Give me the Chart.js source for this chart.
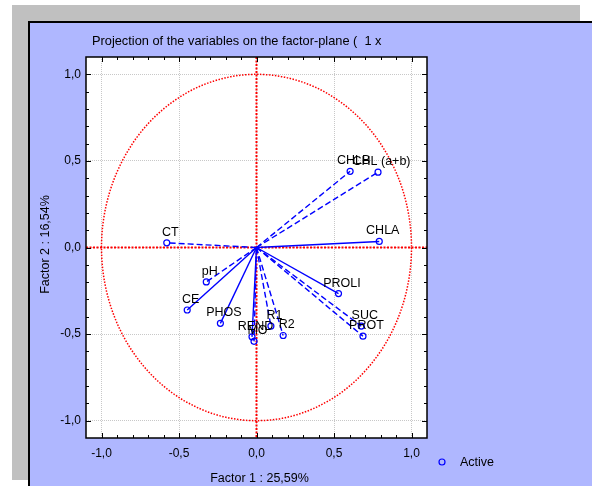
<!DOCTYPE html>
<html>
<head>
<meta charset="utf-8">
<script src="https://cdn.jsdelivr.net/npm/chart.js@4/dist/chart.umd.min.js"></script>
<style>
  html, body { margin: 0; padding: 0; background: #fff; }
  canvas { display: block; }
</style>
</head>
<body>
<canvas id="pcaChart" width="597" height="486"></canvas>
<script>
// Variables projected on factor plane 1 x 2
const variables = ['CHLA', 'CHL (a+b)', 'CHLB', 'CT', 'pH', 'CE', 'PHOS', 'REND', 'MO', 'R1', 'R2', 'PROLI', 'SUC', 'PROT'];
const factor1 = [0.792, 0.784, 0.604, -0.579, -0.324, -0.447, -0.233, -0.029, -0.016, 0.093, 0.172, 0.529, 0.676, 0.687];
const factor2 = [0.035, 0.435, 0.440, 0.027, -0.199, -0.361, -0.438, -0.516, -0.542, -0.454, -0.508, -0.266, -0.454, -0.512];
const lineDashed = [false, true, true, true, true, false, false, false, true, true, true, false, true, true];
const tickValues = [-1.0, -0.5, 0.0, 0.5, 1.0];

const FONT = '"Liberation Sans", Arial, sans-serif';
const BLUE = '#0000ff';
const RED = '#ff0000';

const fmt = v => v.toFixed(1).replace('.', ',');

// fond, cercle de corrélation, étiquettes, cadre
const panelPlugin = {
    id: 'panel',
    beforeDraw(chart) {
        const ctx = chart.ctx, a = chart.chartArea;
        ctx.save();
        ctx.fillStyle = '#fff';
        ctx.fillRect(0, 0, chart.width, chart.height);
        ctx.fillStyle = '#c0c0c0';
        ctx.fillRect(12, 5, 568, 475);
        ctx.fillStyle = '#afb7ff';
        ctx.fillRect(28, 21, 564, 465);
        ctx.strokeStyle = '#000';
        ctx.lineWidth = 2;
        ctx.beginPath();
        ctx.moveTo(29, 486); ctx.lineTo(29, 22); ctx.lineTo(592, 22);
        ctx.stroke();
        ctx.fillStyle = '#fff';
        ctx.fillRect(a.left, a.top, a.right - a.left, a.bottom - a.top);
        ctx.restore();
    },
    beforeDatasetsDraw(chart) {
        const ctx = chart.ctx, a = chart.chartArea;
        const sx = chart.scales.x, sy = chart.scales.y;
        const cx = sx.getPixelForValue(0), cy = sy.getPixelForValue(0);
        const rx = sx.getPixelForValue(1) - cx, ry = cy - sy.getPixelForValue(1);
        ctx.save();
        ctx.beginPath(); ctx.rect(a.left, a.top, a.right - a.left, a.bottom - a.top); ctx.clip();
        ctx.strokeStyle = RED;
        ctx.lineWidth = 1.5;
        ctx.setLineDash([1.5, 1.5]);
        ctx.beginPath();
        ctx.ellipse(cx, cy, rx, ry, 0, 0, Math.PI * 2);
        ctx.stroke();
        ctx.lineWidth = 2;
        ctx.setLineDash([2, 1.5]);
        ctx.beginPath();
        ctx.moveTo(cx, a.top); ctx.lineTo(cx, a.bottom);
        ctx.moveTo(a.left, cy); ctx.lineTo(a.right, cy);
        ctx.stroke();
        ctx.restore();
    },
    afterDatasetsDraw(chart) {
        const ctx = chart.ctx;
        ctx.save();
        ctx.fillStyle = '#000';
        ctx.font = '12.5px ' + FONT;
        ctx.textAlign = 'center';
        ctx.textBaseline = 'middle';
        chart.data.datasets.forEach((ds, i) => {
            const pt = chart.getDatasetMeta(i).data[1];
            ctx.fillText(ds.label, pt.x + 3.5, pt.y - 10.5);
        });
        ctx.restore();
    },
    afterDraw(chart) {
        const ctx = chart.ctx, a = chart.chartArea;
        const sx = chart.scales.x, sy = chart.scales.y;
        ctx.save();
        // cadre
        ctx.strokeStyle = '#000';
        ctx.lineWidth = 1.5;
        ctx.strokeRect(a.left, a.top, a.right - a.left, a.bottom - a.top);
        // petites graduations
        ctx.lineWidth = 1;
        ctx.beginPath();
        for (let k = -10; k <= 10; k++) {
            const len = k % 5 === 0 ? 5 : 3;
            const px = Math.round(sx.getPixelForValue(k / 10)) + 0.5;
            const py = Math.round(sy.getPixelForValue(k / 10)) + 0.5;
            ctx.moveTo(px, a.bottom); ctx.lineTo(px, a.bottom - len);
            ctx.moveTo(px, a.top); ctx.lineTo(px, a.top + len);
            ctx.moveTo(a.left, py); ctx.lineTo(a.left + len, py);
            ctx.moveTo(a.right, py); ctx.lineTo(a.right - len, py);
        }
        ctx.stroke();
        // titres
        ctx.fillStyle = '#000';
        ctx.font = '12.8px ' + FONT;
        ctx.textBaseline = 'middle';
        ctx.textAlign = 'left';
        ctx.fillText('Projection of the variables on the factor-plane (  1 x', 92, 41);
        ctx.font = '12.5px ' + FONT;
        ctx.textAlign = 'center';
        ctx.fillText('Factor 1 : 25,59%', (a.left + a.right) / 2 + 3, 479);
        ctx.save();
        ctx.translate(46, (a.top + a.bottom) / 2 - 3);
        ctx.rotate(-Math.PI / 2);
        ctx.fillText('Factor 2 : 16,54%', 0, 0);
        ctx.restore();
        // légende
        ctx.strokeStyle = BLUE;
        ctx.lineWidth = 1.2;
        ctx.beginPath();
        ctx.arc(442, 462, 3, 0, Math.PI * 2);
        ctx.stroke();
        ctx.textAlign = 'left';
        ctx.fillText('Active', 460, 463);
        ctx.restore();
    }
};

const datasets = variables.map((name, i) => ({
    label: name,
    data: [{ x: 0, y: 0 }, { x: factor1[i], y: factor2[i] }],
    showLine: true,
    borderColor: BLUE,
    borderWidth: 1.4,
    borderDash: lineDashed[i] ? [6, 3] : [],
    pointRadius: [0, 3],
    pointBorderColor: BLUE,
    pointBackgroundColor: 'rgba(0,0,0,0)',
    pointBorderWidth: 1.2,
    clip: false
}));

const axisTicks = pad => ({
    padding: pad,
    color: '#000',
    font: { size: 12, family: FONT },
    callback: v => fmt(v)
});

new Chart(document.getElementById('pcaChart'), {
    type: 'scatter',
    data: { datasets },
    options: {
        responsive: false,
        animation: false,
        devicePixelRatio: 1,
        layout: { padding: { left: 0, top: 57, right: 170, bottom: 0 } },
        plugins: { legend: { display: false }, tooltip: { enabled: false } },
        scales: {
            x: {
                type: 'linear', min: -1.1, max: 1.1,
                afterBuildTicks: s => { s.ticks = tickValues.map(v => ({ value: v })); },
                afterFit: s => { s.height = 48; },
                grid: { color: '#c8c8c8', drawTicks: false },
                border: { display: false, dash: [1, 1] },
                ticks: axisTicks(8)
            },
            y: {
                type: 'linear', min: -1.1, max: 1.1,
                afterBuildTicks: s => { s.ticks = tickValues.map(v => ({ value: v })); },
                afterFit: s => { s.width = 86; },
                grid: { color: '#c8c8c8', drawTicks: false },
                border: { display: false, dash: [1, 1] },
                ticks: axisTicks(5)
            }
        }
    },
    plugins: [panelPlugin]
});
</script>
</body>
</html>
